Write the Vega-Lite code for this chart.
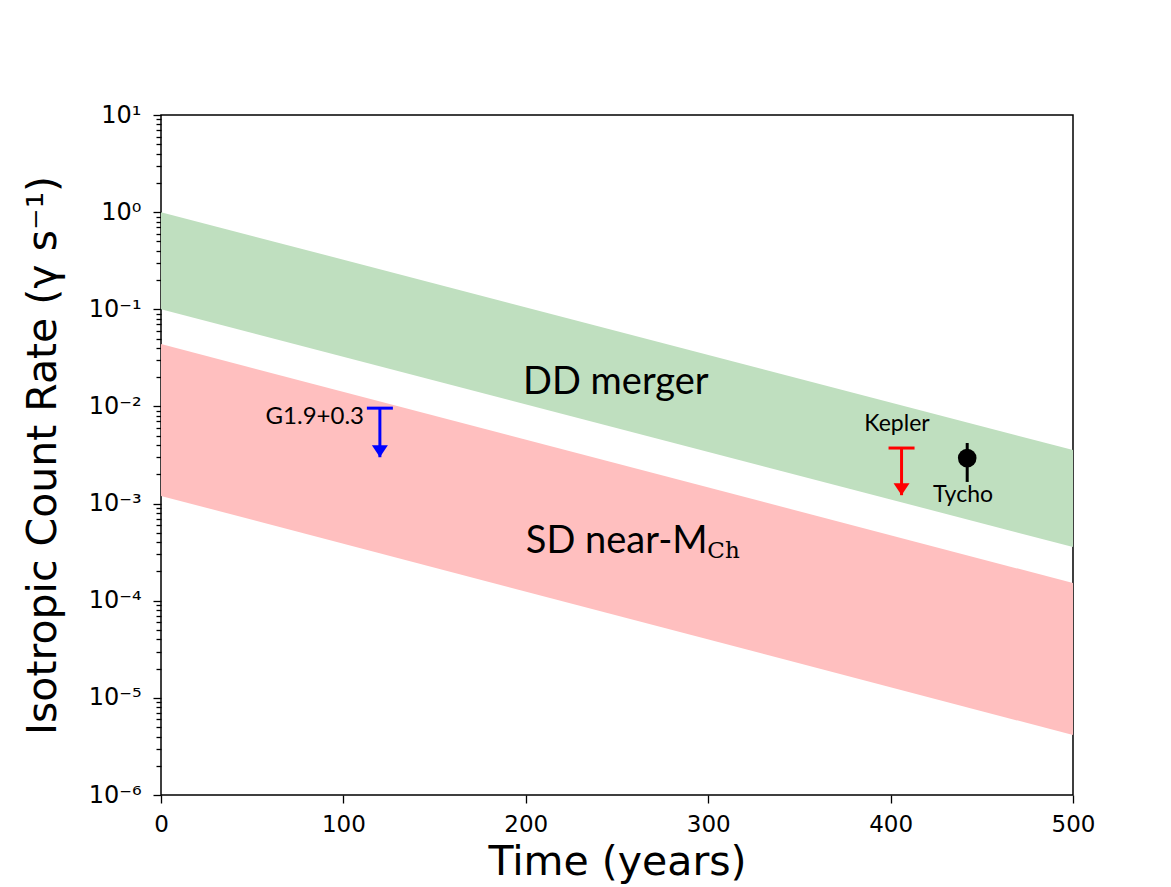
{
  "$schema": "https://vega.github.io/schema/vega-lite/v6.json",
  "width": 912,
  "height": 680,
  "autosize": {"type": "none"},
  "padding": {"left": 161, "top": 115, "right": 98, "bottom": 92},
  "background": "white",
  "config": {
    "view": {"stroke": "black", "strokeWidth": 1.5},
    "text": {"color": "black"}
  },
  "datasets": {
    "bands": [
      {"t": 0, "dd_lo": 0.1, "dd_hi": 1.0, "sd_lo": 0.0012, "sd_hi": 0.0439},
      {"t": 500, "dd_lo": 0.000357, "dd_hi": 0.00356, "sd_lo": 0.00000414, "sd_hi": 0.000152}
    ],
    "obs": [
      {"name": "G1.9+0.3", "t": 120, "hi": 0.0096, "lo": 0.0030, "type": "limit"},
      {"name": "Kepler", "t": 406, "hi": 0.00373, "lo": 0.00122, "type": "limit"},
      {"name": "Tycho", "t": 442, "hi": 0.0042, "lo": 0.00167, "val": 0.00294, "type": "detection"}
    ],
    "labels": [
      {"label": "DD merger", "t": 198.5, "v": 0.01343},
      {"label": "SD near-M", "t": 200, "v": 0.00031},
      {"label": "Ch", "t": 299.5, "v": 0.000275},
      {"label": "G1.9+0.3", "t": 111.3, "v": 0.00659},
      {"label": "Kepler", "t": 403.5, "v": 0.00558},
      {"label": "Tycho", "t": 439.7, "v": 0.00104}
    ]
  },
  "encoding": {
    "x": {
      "field": "t", "type": "quantitative",
      "scale": {"domain": [0, 500], "nice": false, "zero": false},
      "axis": {
        "title": "Time (years)",
        "values": [0, 100, 200, 300, 400, 500],
        "grid": false, "domain": false,
        "tickSize": 8, "tickWidth": 1.3, "tickColor": "black",
        "labelFont": "DejaVu Sans", "labelFontSize": 23, "labelColor": "black",
        "labelPadding": 10, "labelFlush": false,
        "titleFont": "DejaVu Sans", "titleFontSize": 41, "titleFontWeight": "normal",
        "titleColor": "black", "titlePadding": 6
      }
    }
  },
  "layer": [
    {
      "data": {"name": "bands"},
      "mark": {"type": "area", "color": "#bfdfbf", "opacity": 1},
      "encoding": {
        "y": {
          "field": "dd_lo", "type": "quantitative",
          "title": "Isotropic Count Rate (γ s⁻¹)",
          "scale": {"type": "log", "domain": [0.000001, 10], "nice": false},
          "axis": {
            "values": [0.000001, 0.000002, 0.000003, 0.000004, 0.000005, 0.000006, 0.000007, 0.000008, 0.000009,
                       0.00001, 0.00002, 0.00003, 0.00004, 0.00005, 0.00006, 0.00007, 0.00008, 0.00009,
                       0.0001, 0.0002, 0.0003, 0.0004, 0.0005, 0.0006, 0.0007, 0.0008, 0.0009,
                       0.001, 0.002, 0.003, 0.004, 0.005, 0.006, 0.007, 0.008, 0.009,
                       0.01, 0.02, 0.03, 0.04, 0.05, 0.06, 0.07, 0.08, 0.09,
                       0.1, 0.2, 0.3, 0.4, 0.5, 0.6, 0.7, 0.8, 0.9,
                       1, 2, 3, 4, 5, 6, 7, 8, 9, 10],
            "labelExpr": "abs(log(datum.value)/LN10 - round(log(datum.value)/LN10)) < 0.001 ? '10' + ['⁻⁶','⁻⁵','⁻⁴','⁻³','⁻²','⁻¹','⁰','¹'][round(log(datum.value)/LN10)+6] : ''",
            "tickSize": {"condition": {"test": "abs(log(datum.value)/LN10 - round(log(datum.value)/LN10)) < 0.001", "value": 8}, "value": 5},
            "grid": false, "domain": false,
            "tickWidth": 1.3, "tickColor": "black",
            "labelFont": "DejaVu Sans", "labelFontSize": 24, "labelColor": "black",
            "labelPadding": 12, "labelFlush": false, "labelOverlap": false,
            "titleFont": "DejaVu Sans", "titleFontSize": 41, "titleFontWeight": "normal",
            "titleColor": "black", "titlePadding": 24
          }
        },
        "y2": {"field": "dd_hi"}
      }
    },
    {
      "data": {"name": "bands"},
      "mark": {"type": "area", "color": "#ffbfbf", "opacity": 1},
      "encoding": {
        "y": {"field": "sd_lo", "type": "quantitative", "title": "Isotropic Count Rate (γ s⁻¹)"},
        "y2": {"field": "sd_hi"}
      }
    },
    {
      "data": {"name": "obs"},
      "mark": {"type": "rule", "strokeWidth": 3},
      "encoding": {
        "y": {"field": "hi", "type": "quantitative", "title": "Isotropic Count Rate (γ s⁻¹)"},
        "y2": {"field": "lo"},
        "color": {"field": "name", "type": "nominal", "scale": {"domain": ["G1.9+0.3", "Kepler", "Tycho"], "range": ["#0000ff", "#ff0000", "#000000"]}, "legend": null}
      }
    },
    {
      "data": {"name": "obs"},
      "transform": [{"filter": "datum.type == 'limit'"}],
      "mark": {"type": "tick", "orient": "horizontal", "size": 26, "thickness": 3, "opacity": 1},
      "encoding": {
        "y": {"field": "hi", "type": "quantitative", "title": "Isotropic Count Rate (γ s⁻¹)"},
        "color": {"field": "name", "type": "nominal", "legend": null}
      }
    },
    {
      "data": {"name": "obs"},
      "transform": [{"filter": "datum.type == 'limit'"}],
      "mark": {"type": "point", "shape": "M -0.8 -1.2 L 0.8 -1.2 L 0 0 Z", "size": 400, "filled": true, "opacity": 1, "strokeWidth": 0},
      "encoding": {
        "y": {"field": "lo", "type": "quantitative", "title": "Isotropic Count Rate (γ s⁻¹)"},
        "color": {"field": "name", "type": "nominal", "legend": null}
      }
    },
    {
      "data": {"name": "obs"},
      "transform": [{"filter": "datum.type == 'detection'"}],
      "mark": {"type": "circle", "size": 346, "opacity": 1, "color": "black"},
      "encoding": {
        "y": {"field": "val", "type": "quantitative", "title": "Isotropic Count Rate (γ s⁻¹)"}
      }
    },
    {
      "data": {"name": "labels"},
      "transform": [{"filter": "datum.label == 'DD merger' || datum.label == 'SD near-M'"}],
      "mark": {"type": "text", "font": "Lato", "fontSize": 38, "align": "left", "baseline": "alphabetic"},
      "encoding": {
        "y": {"field": "v", "type": "quantitative", "title": "Isotropic Count Rate (γ s⁻¹)"},
        "text": {"field": "label"}
      }
    },
    {
      "data": {"name": "labels"},
      "transform": [{"filter": "datum.label == 'Ch'"}],
      "mark": {"type": "text", "font": "DejaVu Serif", "fontSize": 23, "align": "left", "baseline": "alphabetic"},
      "encoding": {
        "y": {"field": "v", "type": "quantitative", "title": "Isotropic Count Rate (γ s⁻¹)"},
        "text": {"field": "label"}
      }
    },
    {
      "data": {"name": "labels"},
      "transform": [{"filter": "datum.label == 'G1.9+0.3'"}],
      "mark": {"type": "text", "font": "Lato", "fontSize": 24, "align": "right", "baseline": "alphabetic"},
      "encoding": {
        "y": {"field": "v", "type": "quantitative", "title": "Isotropic Count Rate (γ s⁻¹)"},
        "text": {"field": "label"}
      }
    },
    {
      "data": {"name": "labels"},
      "transform": [{"filter": "datum.label == 'Kepler' || datum.label == 'Tycho'"}],
      "mark": {"type": "text", "font": "Lato", "fontSize": 23, "align": "center", "baseline": "alphabetic"},
      "encoding": {
        "y": {"field": "v", "type": "quantitative", "title": "Isotropic Count Rate (γ s⁻¹)"},
        "text": {"field": "label"}
      }
    }
  ]
}
